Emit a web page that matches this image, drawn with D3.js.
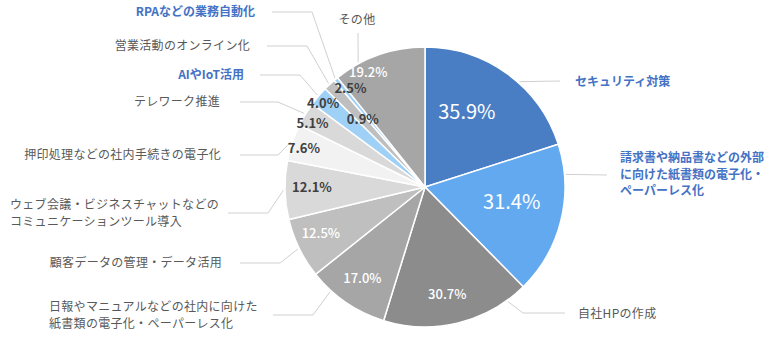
<!DOCTYPE html>
<html>
<head>
<meta charset="utf-8">
<script src="https://cdn.jsdelivr.net/npm/d3@7"></script>
<style>
  body { margin: 0; background: #fff; }
  svg { display: block; font-family: "Noto Sans CJK JP", "Noto Sans", sans-serif; }
</style>
</head>
<body>
<svg id="chart" width="780" height="363"></svg>
<script>
// data (clockwise from 12 o'clock)
const categories = [
  "セキュリティ対策",
  "請求書や納品書などの外部\nに向けた紙書類の電子化・\nペーパーレス化",
  "自社HPの作成",
  "日報やマニュアルなどの社内に向けた\n紙書類の電子化・ペーパーレス化",
  "顧客データの管理・データ活用",
  "ウェブ会議・ビジネスチャットなどの\nコミュニケーションツール導入",
  "押印処理などの社内手続きの電子化",
  "テレワーク推進",
  "AIやIoT活用",
  "営業活動のオンライン化",
  "RPAなどの業務自動化",
  "その他"
];
const values = [35.9, 31.4, 30.7, 17.0, 12.5, 12.1, 7.6, 5.1, 4.0, 2.5, 0.9, 19.2];
const highlighted = [true, true, false, false, false, false, false, false, true, false, true, false];

// styles
const colors = ["#4a7ec4", "#63a9ef", "#8c8c8c", "#a6a6a6", "#bfbfbf", "#d9d9d9",
                "#f2f2f2", "#d9d9d9", "#9fd1f7", "#bfbfbf", "#9fd1f7", "#a6a6a6"];
const valueColor = ["#fff", "#fff", "#fff", "#fff", "#fff", "#404040",
                    "#404040", "#404040", "#404040", "#404040", "#404040", "#fff"];
const valueSize = [20, 20, 13, 13, 13, 13, 13, 13, 13, 13, 13, 13];
const valueWeight = [400, 400, 500, 500, 500, 700, 700, 700, 700, 700, 700, 500];

// layout of value labels: radius and angle shift (deg)
const valueRadius = [86, 88, 110, 111, 114, 113, 127, 129, 132, 124, 92, 128];
const valueShift = [-7, -4, 2, 0, 2, 1, -1, -2, -1, 6, -3, -7];

// layout of category labels: anchor, x, first-line y
const labelAnchor = ["start", "start", "start", "start", "end", "start", "end", "end", "end", "end", "end", "middle"];
const labelX = [575, 620, 578, 49, 222, 10, 221, 220, 244, 250, 255, 357];
const labelY = [82, 158, 314, 307, 263, 205, 155, 102, 75, 46, 12, 20];
// leader lines: start near label, optional elbow, fraction of slice where it meets the pie
const leaderStart = [[560, 81], [607, 175], [565, 313], [273, 315], [240, 263], [228, 213],
                     [240, 155], [240, 102], [260, 75], [267, 46], [272, 12], [358, 33]];
const leaderElbow = [null, null, [523, 313], [313, 315], [280, 263], [268, 213],
                     [278, 155], [278, 102], [300, 75], [307, 46], [312, 12], null];
const leaderAt = [0.58, 0.2, 0.14, 0.73, 0.5, 0.5, 0.5, 0.5, 0.5, 0.5, 0.5, 0.27];

const svg = d3.select("#chart");
const cx = 425, cy = 187, r = 140;

const pie = d3.pie().sort(null).value(d => d)(values);
const arc = d3.arc().innerRadius(0).outerRadius(r);

const g = svg.append("g").attr("transform", `translate(${cx},${cy})`);

g.selectAll("path.slice")
  .data(pie)
  .enter()
  .append("path")
  .attr("class", "slice")
  .attr("d", arc)
  .attr("fill", (d, i) => colors[i])
  .attr("stroke", "#fff")
  .attr("stroke-width", 1.5);

// point on circle, angle measured clockwise from 12 o'clock
function polar(a, rad) {
  return [cx + rad * Math.sin(a), cy - rad * Math.cos(a)];
}

// leader lines
svg.selectAll("path.leader")
  .data(pie)
  .enter()
  .append("path")
  .attr("class", "leader")
  .attr("fill", "none")
  .attr("stroke", "#d0d0d0")
  .attr("stroke-width", 1)
  .attr("d", (d, i) => {
    const a = d.startAngle + (d.endAngle - d.startAngle) * leaderAt[i];
    const end = polar(a, r + 1.5);
    const pts = [leaderStart[i]];
    if (leaderElbow[i]) pts.push(leaderElbow[i]);
    pts.push(end);
    return d3.line()(pts);
  });

// value labels
svg.selectAll("text.value")
  .data(pie)
  .enter()
  .append("text")
  .attr("class", "value")
  .attr("x", (d, i) => polar((d.startAngle + d.endAngle) / 2 + valueShift[i] * Math.PI / 180, valueRadius[i])[0])
  .attr("y", (d, i) => polar((d.startAngle + d.endAngle) / 2 + valueShift[i] * Math.PI / 180, valueRadius[i])[1])
  .attr("text-anchor", "middle")
  .attr("dy", "0.36em")
  .attr("fill", (d, i) => valueColor[i])
  .attr("font-size", (d, i) => valueSize[i])
  .attr("font-weight", (d, i) => valueWeight[i])
  .text(d => d.data.toFixed(1) + "%");

// category labels
svg.selectAll("text.cat")
  .data(categories)
  .enter()
  .append("text")
  .attr("class", "cat")
  .attr("text-anchor", (d, i) => labelAnchor[i])
  .attr("font-size", 12)
  .attr("font-weight", (d, i) => highlighted[i] ? 700 : 400)
  .attr("fill", (d, i) => highlighted[i] ? "#4472c4" : "#595959")
  .attr("letter-spacing", (d, i) => highlighted[i] ? 0 : 0.3)
  .each(function (d, i) {
    const t = d3.select(this);
    d.split("\n").forEach((line, k) => {
      t.append("tspan")
        .attr("x", labelX[i])
        .attr("y", labelY[i] + k * 16.5)
        .attr("dy", "0.36em")
        .text(line);
    });
  });
</script>
</body>
</html>
